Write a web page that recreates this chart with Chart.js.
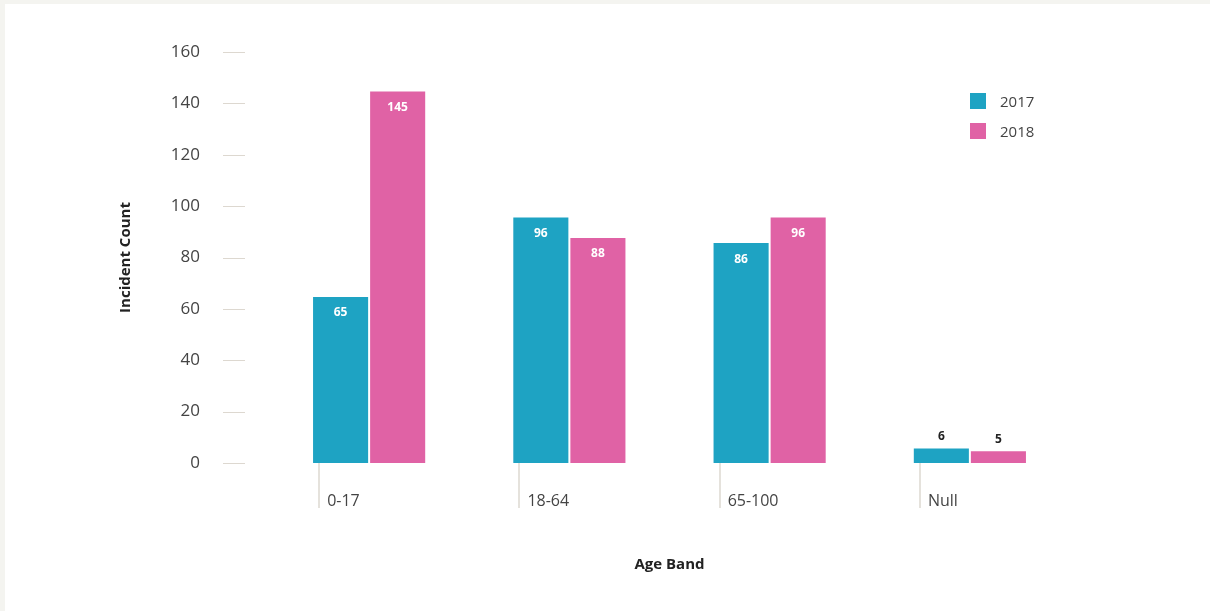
<!DOCTYPE html>
<html>
<head>
<meta charset="utf-8">
<script src="https://cdn.jsdelivr.net/npm/chart.js@4.4.1/dist/chart.umd.min.js"></script>
<style>
  html, body { margin: 0; padding: 0; background: #f4f4f0; }
  #wrap { position: absolute; left: 5px; top: 4px; width: 1205px; height: 607px; background: #fff; }
  canvas { display: block; }
</style>
</head>
<body>
<div id="wrap"><canvas id="ageChart" width="1205" height="607"></canvas></div>
<script>
const ageBands = ["0-17", "18-64", "65-100", "Null"];
const counts2017 = [65, 96, 86, 6];
const counts2018 = [145, 88, 96, 5];
const yTicks = [0, 20, 40, 60, 80, 100, 120, 140, 160];

const BLUE = "#1ea3c3";
const PINK = "#e062a5";
const LINE = "#ddd8d0";
const FONT = "'Open Sans', 'Noto Sans', sans-serif";

// tick dashes, category lines, value labels and legend
const extras = {
  id: "extras",
  afterDatasetsDraw(chart) {
    const { ctx, chartArea, scales } = chart;
    ctx.save();
    ctx.strokeStyle = LINE;
    ctx.lineWidth = 1;
    yTicks.forEach(v => {
      const y = Math.round(scales.y.getPixelForValue(v)) + 0.5;
      ctx.beginPath();
      ctx.moveTo(chartArea.left - 46, y);
      ctx.lineTo(chartArea.left - 24, y);
      ctx.stroke();
    });
    ctx.lineWidth = 1.5;
    ageBands.forEach((b, i) => {
      const x = Math.round(scales.x.getPixelForValue(i)) - 50;
      ctx.beginPath();
      ctx.moveTo(x, chartArea.bottom);
      ctx.lineTo(x, chartArea.bottom + 45);
      ctx.stroke();
    });

    ctx.font = "bold 12px " + FONT;
    ctx.textAlign = "center";
    ctx.textBaseline = "middle";
    chart.data.datasets.forEach((ds, di) => {
      chart.getDatasetMeta(di).data.forEach((bar, i) => {
        const v = ds.data[i];
        if (v < 20) {
          ctx.fillStyle = "#222";
          ctx.fillText(v, bar.x, bar.y - 11);
        } else {
          ctx.fillStyle = "#fff";
          ctx.fillText(v, bar.x, bar.y + 17);
        }
      });
    });

    ctx.font = "15px " + FONT;
    ctx.textAlign = "left";
    chart.data.datasets.forEach((ds, di) => {
      const x = chartArea.right - 100;
      const y = chartArea.top + 41 + di * 30;
      ctx.fillStyle = ds.backgroundColor;
      ctx.fillRect(x, y, 16, 16);
      ctx.fillStyle = "#444";
      ctx.fillText(ds.label, x + 30, y + 10);
    });
    ctx.restore();
  }
};

new Chart(document.getElementById("ageChart"), {
  type: "bar",
  data: {
    labels: ageBands,
    datasets: [
      { label: "2017", data: counts2017, backgroundColor: BLUE, borderColor: "rgba(255,255,255,0.15)", borderWidth: 1 },
      { label: "2018", data: counts2018, backgroundColor: PINK, borderColor: "rgba(255,255,255,0.15)", borderWidth: 1 }
    ]
  },
  options: {
    responsive: false,
    animation: false,
    devicePixelRatio: 1,
    layout: { padding: { top: 48, right: 140, left: 0, bottom: 0 } },
    datasets: { bar: { categoryPercentage: 0.57, barPercentage: 1 } },
    plugins: { legend: { display: false }, tooltip: { enabled: false } },
    scales: {
      x: {
        grid: { display: false },
        border: { display: false },
        ticks: { align: "start", labelOffset: -42, padding: 21, color: "#444", font: { family: FONT, size: 16 } },
        title: { display: true, text: "Age Band", color: "#222", font: { family: FONT, size: 15, weight: "bold" }, padding: { top: 0, bottom: 37 } },
        afterFit(scale) { scale.height = 148; }
      },
      y: {
        min: 0,
        max: 160,
        grid: { display: false },
        border: { display: false },
        ticks: { stepSize: 20, padding: 61, color: "#444", font: { family: FONT, size: 17 } },
        title: { display: true, text: "Incident Count", color: "#222", font: { family: FONT, size: 15, weight: "bold" }, padding: { top: 112, bottom: 0 } },
        afterFit(scale) {
          scale.width = 264;
          scale.paddingTop = 0;
          scale.paddingBottom = 0;
        }
      }
    }
  },
  plugins: [extras]
});
</script>
</body>
</html>
